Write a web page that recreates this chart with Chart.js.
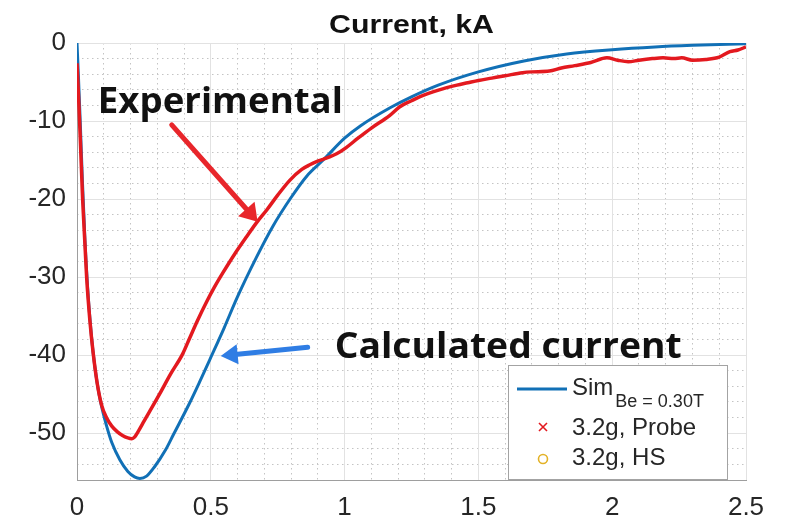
<!DOCTYPE html>
<html>
<head>
<meta charset="utf-8">
<script src="https://cdn.jsdelivr.net/npm/chart.js@4.4.0/dist/chart.umd.min.js"></script>
<style>
  body { margin: 0; background: #fff; }
  #wrap { width: 785px; height: 522px; }
</style>
</head>
<body>
<div id="wrap"><canvas id="myChart"></canvas></div>
<script>
// Sim, Be = 0.30T (current in kA)
var simTime = [0, 0.005, 0.012, 0.02, 0.03, 0.04, 0.05, 0.06, 0.075, 0.09, 0.11, 0.13, 0.16, 0.19, 0.215, 0.235,
  0.26, 0.29, 0.33, 0.36, 0.42, 0.46, 0.5, 0.55, 0.6, 0.67, 0.73, 0.8, 0.86, 0.92, 1.0, 1.06, 1.17, 1.25,
  1.35, 1.5, 1.67, 1.83, 2.0, 2.16, 2.3, 2.5];
var simCurrent = [0, -4, -10, -17.5, -25.5, -31.5, -36, -39.6, -43.5, -46.3, -49, -51.2, -53.4, -54.9, -55.6, -55.8,
  -55.5, -54.3, -52.2, -50.2, -46.2, -43.3, -40.3, -36.5, -32.5, -27.5, -23.6, -19.8, -17, -15.0, -12.2, -10.6, -8.3, -6.9,
  -5.4, -3.7, -2.3, -1.4, -0.85, -0.5, -0.3, -0.1];

// 3.2g, Probe (experimental)
var probeTime = [0, 0.006, 0.012, 0.021, 0.03, 0.036, 0.048, 0.06, 0.075, 0.092, 0.11, 0.13, 0.15, 0.17, 0.19, 0.205,
  0.215, 0.23, 0.25, 0.27, 0.31, 0.35, 0.394, 0.42, 0.45, 0.484, 0.515, 0.546, 0.59, 0.63, 0.676, 0.709, 0.75,
  0.795, 0.84, 0.87, 0.895, 0.92, 0.944, 0.97, 1.006, 1.05, 1.1, 1.168, 1.205, 1.25, 1.28, 1.354, 1.42, 1.46,
  1.5, 1.55, 1.6, 1.665, 1.7, 1.765, 1.81, 1.86, 1.92, 1.98, 2.02, 2.06, 2.1, 2.15, 2.19, 2.23, 2.26, 2.3,
  2.35, 2.4, 2.44, 2.47, 2.5];
var probeCurrent = [-2.6, -7, -12, -20, -26, -30, -35.5, -39.6, -43.5, -46.4, -48.0, -49.1, -49.8, -50.3, -50.6, -50.7,
  -50.5, -49.7, -48.5, -47.3, -44.9, -42.4, -39.9, -37.9, -35.6, -33.2, -31.2, -29.4, -27.0, -25.0, -22.8, -21.4, -19.5,
  -17.6, -16.2, -15.6, -15.2, -14.9, -14.6, -14.2, -13.4, -12.2, -10.9, -9.3, -8.2, -7.4, -6.9, -6.0, -5.4, -5.1,
  -4.8, -4.5, -4.2, -3.8, -3.7, -3.6, -3.2, -2.9, -2.5, -1.9, -2.2, -2.4, -2.2, -2.0, -1.9, -2.0, -1.9, -2.2,
  -2.1, -1.8, -1.1, -0.9, -0.5];

// 3.2g, HS - nothing visible on the plot
var hsTime = [];
var hsCurrent = [];

var xTicks = [0, 0.5, 1, 1.5, 2, 2.5];
var yTicks = [0, -10, -20, -30, -40, -50];

var simColor = '#1170b6';
var probeColor = '#e3191f';
var hsColor = '#e3b227';

function toPoints(xs, ys) {
    var pts = [];
    for (var i = 0; i < xs.length; i++) pts.push({ x: xs[i], y: ys[i] });
    return pts;
}

// stretch text to the width it has in the picture
function fitText(ctx, text, x, y, w) {
    var m = ctx.measureText(text).width;
    ctx.save();
    ctx.translate(x, y);
    ctx.scale(w / m, 1);
    ctx.fillText(text, 0, 0);
    ctx.restore();
}

function arrow(ctx, x0, y0, x1, y1, color, lw, headLen, headHalf) {
    var a = Math.atan2(y1 - y0, x1 - x0);
    var bx = x1 - headLen * Math.cos(a), by = y1 - headLen * Math.sin(a);
    ctx.save();
    ctx.strokeStyle = color;
    ctx.lineWidth = lw;
    ctx.lineCap = 'round';
    ctx.beginPath();
    ctx.moveTo(x0, y0);
    ctx.lineTo(bx, by);
    ctx.stroke();
    ctx.fillStyle = color;
    ctx.beginPath();
    ctx.moveTo(x1, y1);
    ctx.lineTo(bx + headHalf * Math.sin(a), by - headHalf * Math.cos(a));
    ctx.lineTo(bx - headHalf * Math.sin(a), by + headHalf * Math.cos(a));
    ctx.closePath();
    ctx.fill();
    ctx.restore();
}

// text + arrows placed in data units
var notes = [
    { text: 'Experimental', x: 0.078, y: -9.0, w: 245, color: '#e8262b', from: [0.354, -10.5], to: [0.675, -22.9], head: [17, 11] },
    { text: 'Calculated current', x: 0.963, y: -40.4, w: 347, color: '#2f7de4', from: [0.862, -39.0], to: [0.537, -40.1], head: [17, 10] }
];

var overlay = {
    id: 'overlay',
    afterDatasetsDraw: function (chart) {
        var ctx = chart.ctx, xs = chart.scales.x, ys = chart.scales.y;
        notes.forEach(function (n) {
            ctx.save();
            ctx.fillStyle = '#111';
            ctx.font = 'bold 35px "Open Sans"';
            ctx.textBaseline = 'alphabetic';
            fitText(ctx, n.text, xs.getPixelForValue(n.x), ys.getPixelForValue(n.y), n.w);
            ctx.restore();
            arrow(ctx, xs.getPixelForValue(n.from[0]), ys.getPixelForValue(n.from[1]),
                xs.getPixelForValue(n.to[0]), ys.getPixelForValue(n.to[1]), n.color, 5, n.head[0], n.head[1]);
        });
    },
    afterDraw: function (chart) {
        var ctx = chart.ctx, ca = chart.chartArea;
        // title
        ctx.save();
        ctx.fillStyle = '#111';
        ctx.font = 'bold 25px "Liberation Sans"';
        ctx.textBaseline = 'alphabetic';
        var tw = 165;
        fitText(ctx, 'Current, kA', (ca.left + ca.right) / 2 - tw / 2, 33, tw);
        ctx.restore();

        // legend box
        var bw = 219, bh = 114;
        var bx = ca.right - 19 - bw, by = ca.bottom - 1 - bh;
        ctx.save();
        ctx.fillStyle = '#fff';
        ctx.fillRect(bx, by, bw, bh);
        ctx.strokeStyle = '#a3a3a3';
        ctx.lineWidth = 1;
        ctx.strokeRect(bx + 0.5, by + 0.5, bw, bh);

        ctx.strokeStyle = simColor;
        ctx.lineWidth = 3;
        ctx.beginPath();
        ctx.moveTo(bx + 9, by + 24);
        ctx.lineTo(bx + 59, by + 24);
        ctx.stroke();

        ctx.fillStyle = '#262626';
        ctx.textBaseline = 'alphabetic';
        ctx.font = '24px "Liberation Sans"';
        ctx.fillText('Sim', bx + 64, by + 30);
        var sw = ctx.measureText('Sim').width;
        ctx.font = '18px "Liberation Sans"';
        ctx.fillText('Be = 0.30T', bx + 66 + sw, by + 42);
        ctx.font = '24px "Liberation Sans"';
        ctx.fillText('3.2g, Probe', bx + 64, by + 70);
        ctx.fillText('3.2g, HS', bx + 64, by + 100);

        ctx.strokeStyle = probeColor;
        ctx.lineWidth = 1.6;
        var cx = bx + 35, cy = by + 62;
        ctx.beginPath();
        ctx.moveTo(cx - 4, cy - 4); ctx.lineTo(cx + 4, cy + 4);
        ctx.moveTo(cx - 4, cy + 4); ctx.lineTo(cx + 4, cy - 4);
        ctx.stroke();

        ctx.strokeStyle = hsColor;
        ctx.beginPath();
        ctx.arc(bx + 35, by + 94, 4.5, 0, Math.PI * 2);
        ctx.stroke();
        ctx.restore();
    }
};

var tickFont = { family: '"Liberation Sans"', size: 26 };

var ctx = document.getElementById('myChart').getContext('2d');
var chart = new Chart(ctx, {
    type: 'line',
    data: {
        datasets: [{
            label: '3.2g, Probe',
            data: toPoints(probeTime, probeCurrent),
            borderColor: probeColor,
            borderWidth: 3.5,
            pointRadius: 0,
            cubicInterpolationMode: 'monotone',
            order: 0
        }, {
            label: 'Sim Be = 0.30T',
            data: toPoints(simTime, simCurrent),
            borderColor: simColor,
            borderWidth: 3,
            pointRadius: 0,
            cubicInterpolationMode: 'monotone',
            order: 1
        }, {
            label: '3.2g, HS',
            data: toPoints(hsTime, hsCurrent),
            borderColor: hsColor,
            showLine: false,
            pointStyle: 'circle',
            order: 2
        }]
    },
    options: {
        responsive: true,
        maintainAspectRatio: false,
        animation: false,
        events: [],
        layout: { padding: { left: 0, top: 43, right: 39, bottom: 0 } },
        plugins: { legend: { display: false }, tooltip: { enabled: false }, title: { display: false } },
        scales: {
            // minor dotted grid
            xm: {
                type: 'linear', position: 'bottom', min: 0, max: 2.5,
                ticks: { display: false, stepSize: 0.1 },
                grid: { color: '#c4c4c4', drawTicks: false },
                border: { display: false, dash: [1.5, 3.5] },
                afterFit: function (s) { s.height = 0; }
            },
            ym: {
                type: 'linear', position: 'left', min: -56, max: 0,
                ticks: { display: false, stepSize: 2 },
                grid: { color: '#c4c4c4', drawTicks: false },
                border: { display: false, dash: [1.5, 3.5] },
                afterFit: function (s) { s.width = 0; }
            },
            x: {
                type: 'linear', position: 'bottom', min: 0, max: 2.5,
                afterBuildTicks: function (s) { s.ticks = xTicks.map(function (v) { return { value: v }; }); },
                ticks: {
                    font: tickFont, color: '#262626', padding: 12, maxRotation: 0,
                    callback: function (v) { return String(v); }
                },
                grid: { color: '#e2e2e2', drawTicks: false },
                border: { color: '#9e9e9e', width: 1 },
                afterFit: function (s) { s.height = 42; }
            },
            y: {
                type: 'linear', position: 'left', min: -56, max: 0,
                afterBuildTicks: function (s) { s.ticks = yTicks.map(function (v) { return { value: v }; }); },
                ticks: {
                    font: tickFont, color: '#262626', padding: 11,
                    callback: function (v) { return String(v); }
                },
                grid: { color: '#e2e2e2', drawTicks: false },
                border: { color: '#9e9e9e', width: 1 },
                afterFit: function (s) { s.width = 77; }
            }
        }
    },
    plugins: [overlay]
});
</script>
</body>
</html>
